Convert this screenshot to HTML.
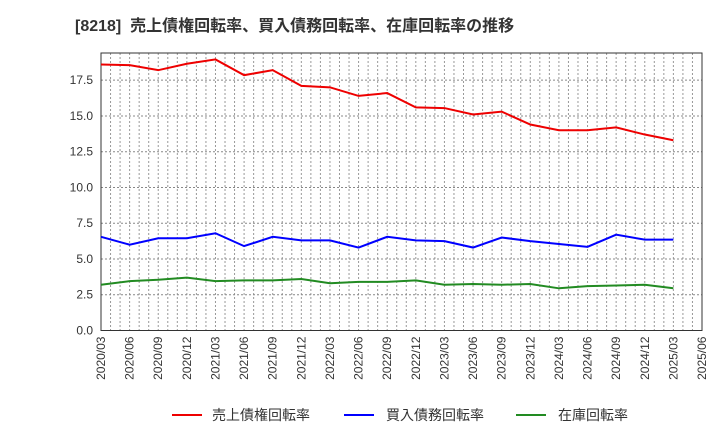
<!DOCTYPE html>
<html><head><meta charset="utf-8"><style>
body{margin:0;background:#fff;font-family:"Liberation Sans","Noto Sans CJK JP",sans-serif;}
svg text{font-family:"Liberation Sans","Noto Sans CJK JP",sans-serif;}
</style></head><body>
<svg id="c" width="720" height="440" viewBox="0 0 720 440" xmlns="http://www.w3.org/2000/svg">
<text x="75" y="31" font-size="16" font-weight="bold" fill="#333">[8218]&#160;&#160;売上債権回転率、買入債務回転率、在庫回転率の推移</text>
<g id="grid"></g><g id="axes"></g><g id="series"></g>
<g>
<line x1="172" y1="415" x2="202" y2="415" stroke="#e00" stroke-width="2"/>
<text x="212" y="420" font-size="14" fill="#333">売上債権回転率</text>
<line x1="344" y1="415" x2="374" y2="415" stroke="#00f" stroke-width="2"/>
<text x="386" y="420" font-size="14" fill="#333">買入債務回転率</text>
<line x1="516" y1="415" x2="546" y2="415" stroke="#228b22" stroke-width="2"/>
<text x="558" y="420" font-size="14" fill="#333">在庫回転率</text>
</g>
</svg>
<script>
const xLabels=["2020/03","2020/06","2020/09","2020/12","2021/03","2021/06","2021/09","2021/12","2022/03","2022/06","2022/09","2022/12","2023/03","2023/06","2023/09","2023/12","2024/03","2024/06","2024/09","2024/12","2025/03","2025/06"];
const yTicks=[0,2.5,5,7.5,10,12.5,15,17.5];
const receivables=[18.6,18.55,18.2,18.65,18.95,17.85,18.2,17.1,17.0,16.4,16.6,15.6,15.55,15.1,15.3,14.4,14.0,14.0,14.2,13.7,13.3];
const payables=[6.55,6.0,6.45,6.45,6.8,5.9,6.55,6.3,6.3,5.8,6.55,6.3,6.25,5.8,6.5,6.25,6.05,5.85,6.7,6.35,6.35];
const inventory=[3.2,3.45,3.55,3.7,3.45,3.5,3.5,3.6,3.3,3.4,3.4,3.5,3.2,3.25,3.2,3.25,2.95,3.1,3.15,3.2,2.95];
const L=101,R=702,T=53,B=330.5,YMAX=19.4;
const xs=i=>L+(R-L)*i/(xLabels.length-1);
const ys=v=>B-(B-T)*v/YMAX;
const NS="http://www.w3.org/2000/svg";
function mk(p,tag,a){const e=document.createElementNS(NS,tag);for(const k in a)e.setAttribute(k,a[k]);p.appendChild(e);return e;}
const g=document.getElementById('grid'),ax=document.getElementById('axes'),s=document.getElementById('series');
for(let m=1;m<(xLabels.length-1)*3;m++){const x=L+(R-L)*m/((xLabels.length-1)*3);
const l=mk(g,'line',{x1:x,y1:T,x2:x,y2:B,stroke:'#999','stroke-dasharray':'2,2','stroke-width':1});
}
yTicks.forEach(v=>{const y=ys(v);
if(v>0){const l=mk(g,'line',{x1:L,y1:y,x2:R,y2:y,stroke:'#888','stroke-dasharray':'2,2','stroke-width':1});
}
const t=mk(ax,'text',{x:L-8,y:y+4,'font-size':12,fill:'#333','text-anchor':'end'});t.textContent=v.toFixed(1);
});
xLabels.forEach((lb,i)=>{const x=xs(i);
const t=mk(ax,'text',{x:0,y:0,'font-size':12,fill:'#333','text-anchor':'end',transform:`translate(${x+4},${B+6}) rotate(-90)`});t.textContent=lb;
});
const f=mk(ax,'rect',{x:L,y:T,width:R-L,height:B-T,fill:'none',stroke:'#333','stroke-width':1});

[[receivables,'#e00','receivables-line'],[payables,'#00f','payables-line'],[inventory,'#228b22','inventory-line']].forEach(([d,c,n])=>{
const p=mk(s,'polyline',{points:d.map((v,i)=>xs(i)+','+ys(v)).join(' '),fill:'none',stroke:c,'stroke-width':2});
});
</script>
</body></html>
